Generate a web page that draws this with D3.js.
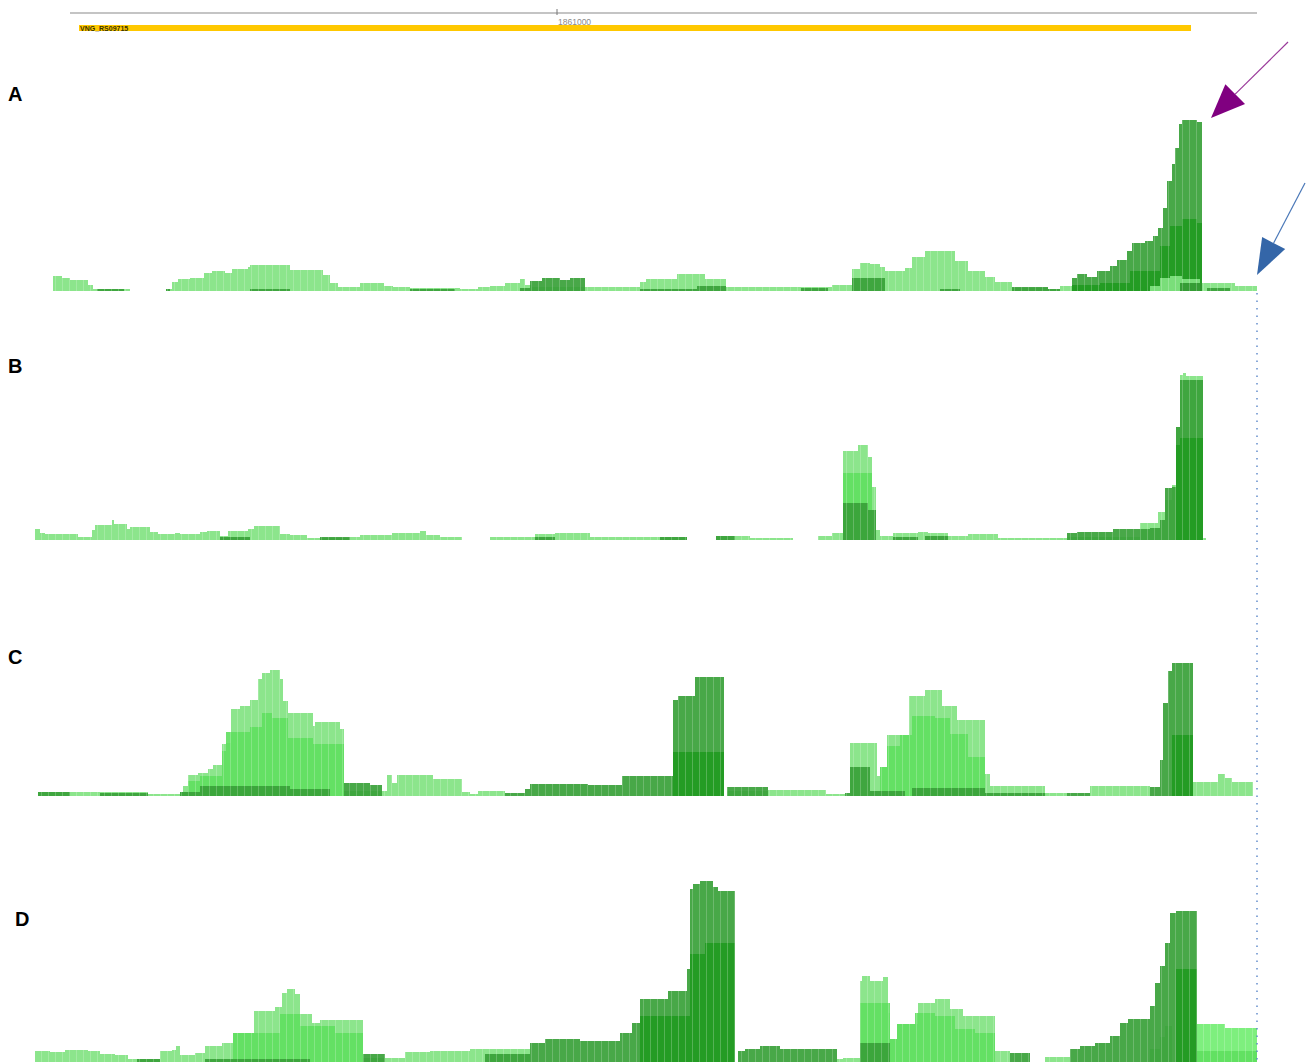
<!DOCTYPE html>
<html>
<head>
<meta charset="utf-8">
<script src="https://cdn.jsdelivr.net/npm/d3@7/dist/d3.min.js"></script>
<style>
  html, body { margin: 0; padding: 0; background: #fff; }
  svg { display: block; }
</style>
</head>
<body>
<svg id="chart" width="1312" height="1063"></svg>
<script>
// ---- genomic window -------------------------------------------------------
const WINDOW_START = 1859886;          // coordinate at the left edge of the view
const WINDOW_LEN = 2624;               // bp across the view
const RULER_SPAN = [140, 2514];        // ruler extent, bp offsets
const RULER_TICKS = [1861000];
const GENE_NAME = "VNG_RS09715";
const GENE_SPAN = [158, 2382];
const PANEL_LABELS = ["A", "B", "C", "D"];

// ---- coverage runs: [start offset (bp), depth]; null = no data ------------
const A_light = [[106,15],[124,13],[140,11],[176,6],[186,2],[260,null],[332,2],[344,9],[356,12],[380,13],[408,18],[424,20],[450,18],[464,22],[496,24],[500,26],[580,21],[646,16],[660,8],[676,4],[720,8],[768,5],[786,4],[820,3],[920,2],[956,4],[980,5],[1010,8],[1040,12],[1050,6],[1064,4],[1280,9],[1292,12],[1354,17],[1410,12],[1452,4],[1664,6],[1704,22],[1720,28],[1740,27],[1760,24],[1770,20],[1810,23],[1824,34],[1850,40],[1910,30],[1936,20],[1970,14],[1990,9],[2024,3],[2096,2],[2120,5],[2144,4],[2300,5],[2320,13],[2340,15],[2364,12],[2404,8],[2470,5],[2514,null]];
const A_dark = [[194,2],[248,0],[332,2],[340,0],[500,2],[580,0],[820,2],[910,0],[1040,3],[1060,10],[1084,13],[1120,11],[1140,13],[1170,0],[1280,2],[1394,5],[1452,0],[1602,3],[1656,0],[1704,13],[1770,0],[1880,2],[1920,0],[2024,4],[2096,2],[2120,0],[2144,13],[2154,17],[2174,14],[2194,20],[2220,25],[2234,31],[2254,40],[2264,48],[2290,50],[2306,55],[2316,63],[2326,83],[2334,110],[2344,127],[2350,143],[2358,167],[2364,171],[2394,169],[2404,0],[2414,3],[2460,null]];
const A_core = [[2144,6],[2200,8],[2260,20],[2320,45],[2340,65],[2364,72],[2394,68],[2404,null]];
const A_cap = [[2300,5],[2320,13],[2340,15],[2364,12],[2400,null]];
const A_foot = [[2360,8],[2404,null]];

const B_light = [[70,11],[80,7],[90,6],[156,3],[184,10],[190,15],[224,20],[228,16],[254,11],[260,13],[300,8],[316,6],[350,7],[360,6],[400,8],[414,9],[440,4],[456,9],[496,11],[508,14],[560,6],[580,5],[614,2],[700,3],[720,5],[784,7],[840,9],[852,5],[880,3],[924,null],[980,3],[1070,6],[1110,7],[1180,3],[1374,null],[1432,4],[1500,2],[1586,null],[1636,4],[1664,7],[1686,89],[1716,95],[1736,83],[1744,53],[1752,10],[1760,4],[1786,7],[1836,8],[1856,7],[1896,4],[1936,6],[1996,2],[2134,3],[2280,17],[2316,28],[2330,40],[2344,55],[2352,113],[2360,165],[2366,167],[2372,164],[2406,2],[2412,null]];
const B_mid = [[1686,67],[1744,null]];
const B_dark = [[440,3],[500,0],[640,3],[700,0],[1070,3],[1110,0],[1320,3],[1374,null],[1432,4],[1470,null],[1686,37],[1736,30],[1752,0],[1786,3],[1836,0],[1850,4],[1896,0],[2134,7],[2154,8],[2226,11],[2300,12],[2320,20],[2330,52],[2344,53],[2352,113],[2360,160],[2406,null]];
const B_core = [[2352,95],[2360,102],[2406,null]];

const C_light = [[76,4],[296,2],[360,4],[366,10],[376,21],[396,23],[416,27],[426,31],[444,52],[452,53],[462,87],[480,90],[500,96],[516,117],[524,123],[540,126],[560,117],[566,95],[576,83],[626,70],[630,74],[680,67],[688,5],[774,21],[784,13],[794,21],[866,17],[924,4],[940,2],[956,5],[1010,0],[1454,5],[1536,6],[1652,2],[1690,0],[1700,53],[1754,20],[1760,29],[1774,61],[1818,100],[1850,106],[1884,90],[1914,76],[1970,22],[1980,10],[2090,3],[2134,0],[2180,10],[2300,0],[2386,14],[2436,22],[2450,18],[2464,14],[2506,null]];
const C_mid = [[360,4],[376,15],[400,20],[444,45],[452,64],[500,69],[524,83],[544,78],[576,58],[626,52],[688,null],[1760,29],[1774,50],[1800,61],[1824,80],[1870,78],[1900,62],[1936,39],[1970,null]];
const C_dark = [[76,4],[140,0],[200,3],[296,0],[360,4],[400,10],[580,7],[660,0],[688,13],[740,11],[764,0],[1010,3],[1050,7],[1060,12],[1176,11],[1244,20],[1346,96],[1356,100],[1390,119],[1448,0],[1454,9],[1536,0],[1690,3],[1700,29],[1740,5],[1810,0],[1824,8],[1970,3],[2090,0],[2134,3],[2180,0],[2300,9],[2320,36],[2326,93],[2336,125],[2344,133],[2386,null]];
const C_core = [[1346,44],[1448,null],[2344,61],[2386,null]];

const D_light = [[70,11],[100,10],[130,12],[176,11],[200,8],[230,7],[256,3],[320,11],[344,12],[352,16],[360,7],[390,9],[410,16],[444,19],[466,29],[508,51],[550,55],[564,69],[574,73],[590,68],[600,48],[624,39],[640,42],[726,4],[770,4],[810,10],[860,11],[940,13],[1060,0],[1674,3],[1686,4],[1720,81],[1724,86],[1740,81],[1766,85],[1776,49],[1780,23],[1794,38],[1836,59],[1870,63],[1900,53],[1926,46],[1990,11],[2020,0],[2090,5],[2140,0],[2300,13],[2320,25],[2330,36],[2344,0],[2514,null]];
const D_tail = [[2394,38],[2450,34],[2514,null]];
const D_mid = [[466,29],[560,48],[600,36],[670,29],[726,0],[1720,59],[1780,23],[1794,38],[1830,49],[1870,46],[1910,33],[1950,29],[1990,0],[2394,11],[2514,null]];
const D_dark = [[274,3],[320,0],[410,3],[620,0],[726,8],[770,0],[970,8],[1060,19],[1090,23],[1160,21],[1240,29],[1264,39],[1280,63],[1336,71],[1374,93],[1380,173],[1386,178],[1400,181],[1426,175],[1436,171],[1470,0],[1476,11],[1490,13],[1520,16],[1560,13],[1674,0],[1720,19],[1780,0],[2020,9],[2060,0],[2140,13],[2160,16],[2190,19],[2220,26],[2240,39],[2256,43],[2300,56],[2310,79],[2320,96],[2330,119],[2340,149],[2352,151],[2394,null]];
const D_core = [[1280,46],[1380,108],[1410,119],[1470,0],[2352,93],[2394,null]];

// annotation arrows: [offset, depth] they point at in panel A
const PEAK_MARK = [2422, 173];
const END_MARK = [2514, 16];

// ---- layout ---------------------------------------------------------------
const W = 1312, H = 1063;
const LAYER_STYLE = {
  light: { fill: "#8ce58c", opacity: 1 },
  tail:  { fill: "#7eef7e", opacity: 1 },
  mid:   { fill: "#5fdf5f", opacity: 0.9 },
  dark:  { fill: "#38a138", opacity: 0.92 },
  core:  { fill: "#1f9a1f", opacity: 0.85 },
  cap:   { fill: "#7fe27f", opacity: 0.95 },
  foot:  { fill: "#2d962d", opacity: 0.9 }
};
const panels = [
  { label: PANEL_LABELS[0], base: 291, labelPos: [8, 101],
    layers: [["light", A_light], ["dark", A_dark], ["core", A_core], ["cap", A_cap], ["foot", A_foot]] },
  { label: PANEL_LABELS[1], base: 540, labelPos: [8, 373],
    layers: [["light", B_light], ["mid", B_mid], ["dark", B_dark], ["core", B_core]] },
  { label: PANEL_LABELS[2], base: 796, labelPos: [8, 664],
    layers: [["light", C_light], ["mid", C_mid], ["dark", C_dark], ["core", C_core]] },
  { label: PANEL_LABELS[3], base: 1062, labelPos: [15, 926],
    layers: [["light", D_light], ["tail", D_tail], ["mid", D_mid], ["dark", D_dark], ["core", D_core]] }
];

const svg = d3.select("#chart");
const x = d3.scaleLinear().domain([0, WINDOW_LEN]).range([0, W]);

// faint bin boundaries drawn over every coverage fill
const defs = svg.append("defs");
const pat = defs.append("pattern").attr("id", "bins")
  .attr("patternUnits", "userSpaceOnUse").attr("width", 7).attr("height", 10);
pat.append("rect").attr("x", 6).attr("y", 0).attr("width", 1).attr("height", 10)
  .attr("fill", "#ffffff").attr("opacity", 0.2);

// ruler
const genomic = d3.scaleLinear().domain([WINDOW_START, WINDOW_START + WINDOW_LEN]).range([0, W]);
svg.append("line")
  .attr("x1", x(RULER_SPAN[0])).attr("x2", x(RULER_SPAN[1]))
  .attr("y1", 13).attr("y2", 13)
  .attr("stroke", "#c4c4c4").attr("stroke-width", 2);
RULER_TICKS.forEach(t => {
  svg.append("line").attr("x1", genomic(t)).attr("x2", genomic(t))
    .attr("y1", 9).attr("y2", 15).attr("stroke", "#777").attr("stroke-width", 1);
  svg.append("text").attr("x", genomic(t) + 1).attr("y", 25)
    .attr("font-family", "Liberation Sans, Arial, sans-serif").attr("font-size", 8.5)
    .attr("fill", "#8a8a8a").text(d3.format("d")(t));
});

// gene model
svg.append("rect")
  .attr("x", x(GENE_SPAN[0])).attr("width", x(GENE_SPAN[1]) - x(GENE_SPAN[0]))
  .attr("y", 25).attr("height", 6).attr("fill", "#ffc800");
svg.append("text").attr("x", x(GENE_SPAN[0]) + 1).attr("y", 31)
  .attr("font-family", "Liberation Sans, Arial, sans-serif").attr("font-size", 7)
  .attr("font-weight", "bold").attr("fill", "#3a3200").text(GENE_NAME);

// turn runs into a stepped point list with breaks at null runs
function runsToPoints(runs) {
  const pts = [];
  for (let i = 0; i < runs.length; i++) {
    const [start, v] = runs[i];
    if (v == null || i === runs.length - 1) { pts.push({ p: start, v: null }); continue; }
    const end = runs[i + 1][0];
    pts.push({ p: start, v }, { p: end, v });
  }
  return pts;
}

panels.forEach(panel => {
  const y = d3.scaleLinear().domain([0, 180]).range([panel.base, panel.base - 180]);
  const area = d3.area()
    .defined(d => d.v != null)
    .x(d => x(d.p))
    .y0(y(0))
    .y1(d => y(d.v));
  const g = svg.append("g");
  panel.layers.forEach(([kind, runs]) => {
    const st = LAYER_STYLE[kind];
    const pts = runsToPoints(runs);
    g.append("path").attr("d", area(pts))
      .attr("fill", st.fill).attr("fill-opacity", st.opacity);
    g.append("path").attr("d", area(pts)).attr("fill", "url(#bins)");
  });
  svg.append("text")
    .attr("x", panel.labelPos[0]).attr("y", panel.labelPos[1])
    .attr("font-family", "Liberation Sans, Arial, sans-serif")
    .attr("font-size", 20).attr("font-weight", "bold").attr("fill", "#000")
    .text(panel.label);
  panel.y = y;
});

// dotted marker at the track end, through all panels
svg.append("line")
  .attr("x1", x(END_MARK[0])).attr("x2", x(END_MARK[0]))
  .attr("y1", panels[0].base + 2).attr("y2", H)
  .attr("stroke", "#5a86c8").attr("stroke-width", 1.4)
  .attr("stroke-dasharray", "1.5 6");

// arrows
function arrow(tip, dx, dy, len, halfW, color, lineColor) {
  const [tx, ty] = tip;
  const sx = tx + dx, sy = ty + dy;
  const d = Math.hypot(dx, dy);
  const ux = dx / d, uy = dy / d;
  const bx = tx + ux * len, by = ty + uy * len;
  const nx = -uy, ny = ux;
  svg.append("line").attr("x1", sx).attr("y1", sy).attr("x2", bx).attr("y2", by)
    .attr("stroke", lineColor).attr("stroke-width", 1.2);
  svg.append("path")
    .attr("d", `M${tx},${ty}L${bx + nx * halfW},${by + ny * halfW}L${bx - nx * halfW},${by - ny * halfW}Z`)
    .attr("fill", color);
}
const yA = panels[0].y;
arrow([x(PEAK_MARK[0]), yA(PEAK_MARK[1])], 77, -76, 34, 14, "#800080", "#9a3a9a");
arrow([x(END_MARK[0]), yA(END_MARK[1])], 48, -92, 36, 13, "#3466a8", "#4a78b8");
</script>
</body>
</html>
